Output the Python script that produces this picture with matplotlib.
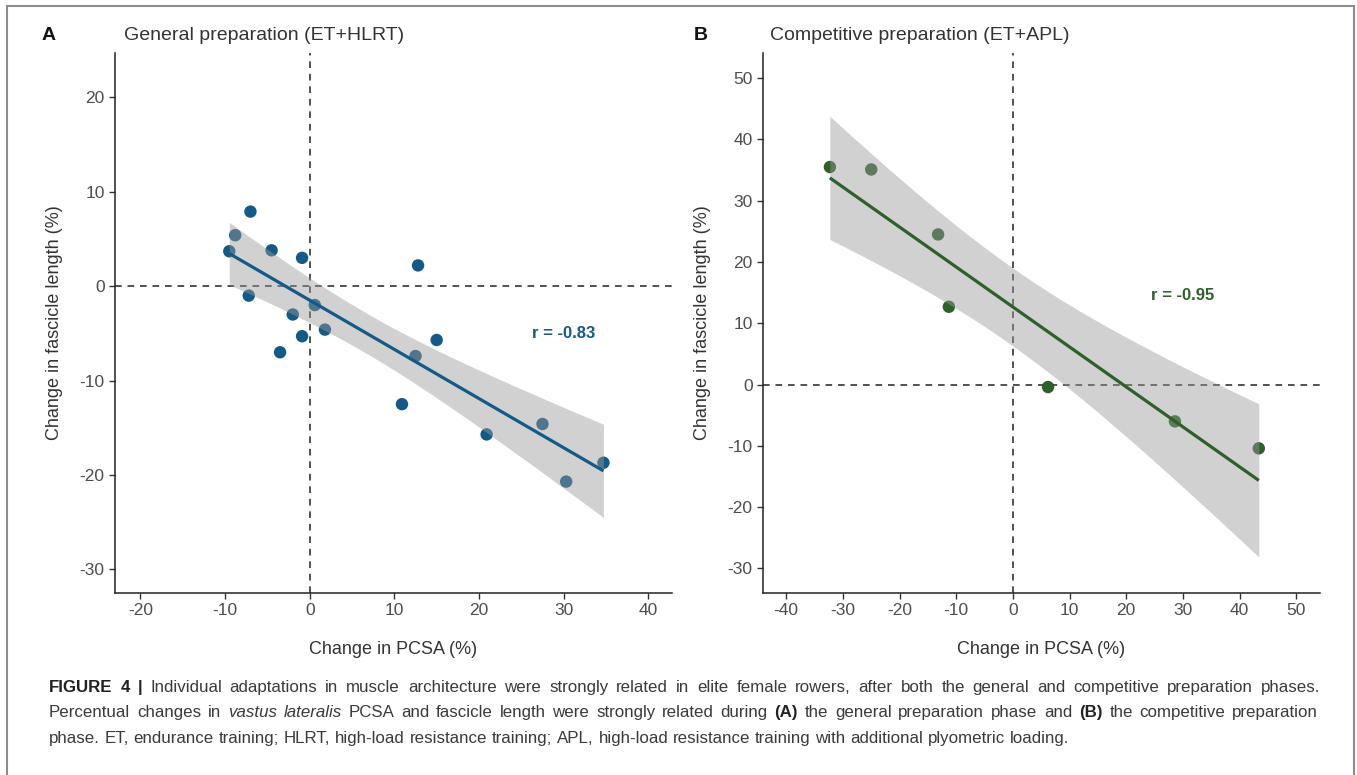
import numpy as np
import matplotlib
matplotlib.use("Agg")
import matplotlib.pyplot as plt
from matplotlib.patches import Rectangle

plt.rcParams['font.family'] = ['Liberation Sans', 'DejaVu Sans']

# ---------------- data ----------------
pcsa_A = [-9.5, -8.8, -7.0, -7.2, -4.5, -0.9, -2.0, -3.5, -0.9, 0.6, 1.8,
          12.5, 12.8, 15.0, 10.9, 20.9, 27.5, 30.3, 34.7]
fasc_A = [3.7, 5.4, 7.9, -1.0, 3.8, 3.0, -3.0, -7.0, -5.3, -2.0, -4.6,
          -7.4, 2.2, -5.7, -12.5, -15.7, -14.6, -20.7, -18.7]
pcsa_B = [-32.3, -25.0, -13.2, -11.3, 6.2, 28.6, 43.4]
fasc_B = [35.5, 35.1, 24.5, 12.7, -0.4, -6.0, -10.4]
t975_A = 2.1098   # t quantile, df = 17
t975_B = 2.5706   # t quantile, df = 5
r_A = "r = -0.83"
r_B = "r = -0.95"
title_A = "General preparation (ET+HLRT)"
title_B = "Competitive preparation (ET+APL)"
xticks_A = [-20, -10, 0, 10, 20, 30, 40]
yticks_A = [20, 10, 0, -10, -20, -30]
xticks_B = [-40, -30, -20, -10, 0, 10, 20, 30, 40, 50]
yticks_B = [50, 40, 30, 20, 10, 0, -10, -20, -30]

BLUE = '#135a86'
GREEN = '#2f5f2a'
TXT = '#333333'
TICK = '#4d4d4d'

W, H = 1357, 775
fig = plt.figure(figsize=(W / 100, H / 100), dpi=100)
fig.patches.append(Rectangle((7 / W, -0.01), (1354 - 7) / W, 1 - 6 / H + 0.01,
                             transform=fig.transFigure, fill=False,
                             edgecolor='#8c8c8c', linewidth=1.5))


def lm_band(x, y, t):
    x = np.asarray(x, float); y = np.asarray(y, float)
    n = len(x)
    b, a = np.polyfit(x, y, 1)
    xs = np.linspace(x.min(), x.max(), 80)
    yhat = a + b * xs
    res = y - (a + b * x)
    s = np.sqrt(np.sum(res ** 2) / (n - 2))
    sxx = np.sum((x - x.mean()) ** 2)
    se = s * np.sqrt(1 / n + (xs - x.mean()) ** 2 / sxx)
    return xs, yhat, yhat - t * se, yhat + t * se


def panel(rect, x, y, t, color, xlim, ylim, xt, yt, rtext, rpos, letter, title, lx, tx):
    ax = fig.add_axes(rect)
    ax.scatter(x, y, s=80, color=color, edgecolors='none', zorder=2)
    xs, yh, lo, hi = lm_band(x, y, t)
    ax.fill_between(xs, lo, hi, color='#999999', alpha=0.45, linewidth=0, zorder=3)
    ax.plot(xs, yh, color=color, lw=2.3, zorder=4, solid_capstyle='butt')
    ax.axhline(0, color='#333333', ls=(0, (4, 3.5)), lw=1.2, zorder=1)
    ax.axvline(0, color='#333333', ls=(0, (4, 3.5)), lw=1.2, zorder=1)
    ax.set_xlim(*xlim); ax.set_ylim(*ylim)
    ax.set_xticks(xt); ax.set_yticks(yt)
    ax.set_xticklabels([str(v) for v in xt])
    ax.set_yticklabels([str(v) for v in yt])
    for sp in ['top', 'right']:
        ax.spines[sp].set_visible(False)
    for sp in ['left', 'bottom']:
        ax.spines[sp].set_color('#222222'); ax.spines[sp].set_linewidth(1.1)
    ax.tick_params(colors='#333333', labelcolor=TICK, labelsize=12.5, length=4, width=1)
    ax.set_xlabel("Change in PCSA (%)", fontsize=13, color=TXT, labelpad=16)
    ax.set_ylabel("Change in fascicle length (%)", fontsize=13, color=TXT, labelpad=12)
    ax.text(rpos[0], rpos[1], rtext, color=color, fontsize=12, fontweight='bold',
            ha='center', va='center')
    fig.text(lx / W, 1 - 35 / H, letter, fontsize=14, fontweight='bold', color='#111111',
             ha='left', va='center')
    fig.text(tx / W, 1 - 35 / H, title, fontsize=14, color=TXT,
             ha='left', va='center')
    return ax


bottom = 1 - 593 / H
height = (593 - 53) / H
panel([115 / W, bottom, (672 - 115) / W, height], pcsa_A, fasc_A, t975_A, BLUE,
      (-23.0, 42.8), (-32.5, 24.7), xticks_A, yticks_A, r_A, (30.0, -5.0),
      "A", title_A, 42, 124)
panel([763 / W, bottom, (1320 - 763) / W, height], pcsa_B, fasc_B, t975_B, GREEN,
      (-44.1, 54.2), (-34.0, 54.1), xticks_B, yticks_B, r_B, (30.0, 14.6),
      "B", title_B, 694, 770)

# ---------------- caption (justified) ----------------
fig.canvas.draw()
renderer = fig.canvas.get_renderer()
CAP_SIZE = 12.2


def style_kw(style):
    kw = dict(fontsize=CAP_SIZE, color='#3a3a3a', ha='left', va='baseline')
    if style == 'b':
        kw['fontweight'] = 'bold'; kw['color'] = '#222222'
    elif style == 'i':
        kw['fontstyle'] = 'italic'
    return kw


def line(x0, ypix, parts, right=None):
    words = []
    for txt, style in parts:
        for w in txt.split():
            words.append((w, style))
    arts, widths = [], []
    for w, style in words:
        t = fig.text(0, 1 - ypix / H, w, **style_kw(style))
        widths.append(t.get_window_extent(renderer=renderer).width)
        arts.append(t)
    sp = fig.text(0, 0, "a a", **style_kw(''))
    sa = fig.text(0, 0, "aa", **style_kw(''))
    space = sp.get_window_extent(renderer=renderer).width - sa.get_window_extent(renderer=renderer).width
    sp.remove(); sa.remove()
    if right is not None and len(words) > 1:
        gap = (right - x0 - sum(widths)) / (len(words) - 1)
    else:
        gap = space
    x = x0
    for t, w in zip(arts, widths):
        t.set_x(x / W)
        x += w + gap


line(49, 692, [("FIGURE 4 |", 'b'),
               (" Individual adaptations in muscle architecture were strongly related in elite female rowers, after both the general and competitive preparation phases.", '')],
     right=1320)
line(49, 717, [("Percentual changes in ", ''), ("vastus lateralis", 'i'),
               (" PCSA and fascicle length were strongly related during ", ''),
               ("(A)", 'b'), (" the general preparation phase and ", ''), ("(B)", 'b'),
               (" the competitive preparation", '')], right=1318)
line(49, 743, [("phase. ET, endurance training; HLRT, high-load resistance training; APL, high-load resistance training with additional plyometric loading.", '')])

fig.savefig("out.png", dpi=100)
